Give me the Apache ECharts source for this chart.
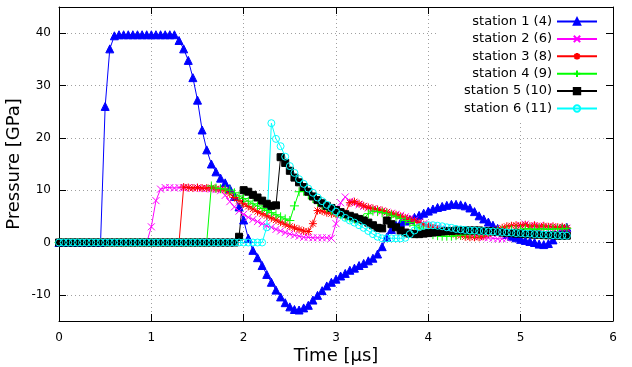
<!DOCTYPE html>
<html>
<head>
<meta charset="utf-8">
<script src="https://cdn.jsdelivr.net/npm/echarts@6/dist/echarts.min.js"></script>
<style>
  html, body { margin: 0; padding: 0; background: #fff; }
  #chart { width: 632px; height: 367px; }
</style>
</head>
<body>
<div id="chart"></div>
<script>
  // sample times [us]
  var time = [
    0.00, 0.05, 0.10, 0.15, 0.20, 0.25, 0.30, 0.35, 0.40, 0.45,
    0.50, 0.55, 0.60, 0.65, 0.70, 0.75, 0.80, 0.85, 0.90, 0.95,
    1.00, 1.05, 1.10, 1.15, 1.20, 1.25, 1.30, 1.35, 1.40, 1.45,
    1.50, 1.55, 1.60, 1.65, 1.70, 1.75, 1.80, 1.85, 1.90, 1.95,
    2.00, 2.05, 2.10, 2.15, 2.20, 2.25, 2.30, 2.35, 2.40, 2.45,
    2.50, 2.55, 2.60, 2.65, 2.70, 2.75, 2.80, 2.85, 2.90, 2.95,
    3.00, 3.05, 3.10, 3.15, 3.20, 3.25, 3.30, 3.35, 3.40, 3.45,
    3.50, 3.55, 3.60, 3.65, 3.70, 3.75, 3.80, 3.85, 3.90, 3.95,
    4.00, 4.05, 4.10, 4.15, 4.20, 4.25, 4.30, 4.35, 4.40, 4.45,
    4.50, 4.55, 4.60, 4.65, 4.70, 4.75, 4.80, 4.85, 4.90, 4.95,
    5.00, 5.05, 5.10, 5.15, 5.20, 5.25, 5.30, 5.35, 5.40, 5.45,
    5.50
  ]

  // pressure [GPa], one value per sample time
  var station1 = [
    0, 0, 0, 0, 0, 0, 0, 0, 0, 0,
    26, 37, 39.5, 39.7, 39.7, 39.7, 39.7, 39.7, 39.7, 39.7,
    39.7, 39.7, 39.7, 39.7, 39.7, 39.7, 38.6, 37.0, 34.8, 31.5,
    27.2, 21.5, 17.7, 15.0, 13.5, 12.3, 11.4, 10.3, 8.8, 6.8,
    4.3, 0.8, -1.5, -2.9, -4.4, -6.1, -7.6, -9.1, -10.4, -11.5,
    -12.3, -12.8, -12.9, -12.5, -12.0, -11.0, -10.1, -9.2, -8.3, -7.6,
    -7.0, -6.4, -5.9, -5.3, -4.9, -4.4, -4.0, -3.5, -3.0, -2.2,
    -0.8, 1.0, 2.5, 3.3, 3.8, 4.1, 4.4, 4.8, 5.2, 5.6,
    6.0, 6.4, 6.7, 6.9, 7.1, 7.3, 7.3, 7.2, 7.0, 6.6,
    5.9, 5.1, 4.5, 3.9, 3.3, 2.7, 2.1, 1.6, 1.2, 0.9,
    0.6, 0.4, 0.2, 0.0, -0.3, -0.4, -0.2, 0.5, 1.5, 2.7,
    2.9
  ]
  var station2 = [
    0, 0, 0, 0, 0, 0, 0, 0, 0, 0,
    0, 0, 0, 0, 0, 0, 0, 0, 0, 0,
    3.0, 8.0, 10.2, 10.5, 10.5, 10.4, 10.5, 10.4, 10.5, 10.4,
    10.4, 10.3, 10.3, 10.2, 10.1, 9.9, 9.0, 7.8, 6.8, 6.0,
    5.4, 4.8, 4.4, 4.0, 3.6, 3.2, 2.9, 2.5, 2.2, 1.9,
    1.6, 1.4, 1.2, 1.0, 1.0, 0.9, 0.9, 0.9, 0.9, 0.8,
    3.6, 7.6, 8.7, 7.9, 7.5, 7.2, 6.9, 6.6, 6.4, 6.2,
    6.0, 5.8, 5.6, 5.4, 5.2, 4.9, 4.6, 4.3, 3.9, 3.6,
    3.3, 3.0, 2.8, 2.6, 2.4, 2.2, 2.0, 1.8, 1.7, 1.5,
    1.4, 1.2, 1.0, 0.9, 0.8, 0.7, 0.7, 0.8, 1.8, 2.9,
    3.3, 3.5, 3.2, 3.0, 3.2, 2.9, 3.0, 2.8, 2.9, 2.7,
    2.7
  ]
  var station3 = [
    0, 0, 0, 0, 0, 0, 0, 0, 0, 0,
    0, 0, 0, 0, 0, 0, 0, 0, 0, 0,
    0, 0, 0, 0, 0, 0, 0, 10.6, 10.5, 10.4,
    10.5, 10.4, 10.4, 10.5, 10.3, 10.2, 10.0, 9.3, 8.6, 8.0,
    7.4, 6.9, 6.4, 5.9, 5.5, 5.1, 4.7, 4.3, 3.9, 3.5,
    3.1, 2.8, 2.5, 2.2, 2.1, 3.6, 6.1, 6.0, 5.7, 5.5,
    5.4, 5.4, 5.5, 7.6, 7.8, 7.4, 7.0, 6.7, 6.5, 6.3,
    6.1, 5.8, 5.5, 5.3, 5.0, 4.7, 4.4, 4.1, 3.8, 3.4,
    3.1, 2.8, 2.5, 2.2, 1.9, 1.7, 1.5, 1.3, 1.1, 1.0,
    1.0, 1.0, 1.2, 1.6, 2.0, 2.5, 2.8, 3.1, 3.2, 3.3,
    3.2, 3.4, 3.1, 3.3, 3.0, 3.2, 3.0, 3.1, 2.9, 3.0,
    2.8
  ]
  var station4 = [
    0, 0, 0, 0, 0, 0, 0, 0, 0, 0,
    0, 0, 0, 0, 0, 0, 0, 0, 0, 0,
    0, 0, 0, 0, 0, 0, 0, 0, 0, 0,
    0, 0, 0, 10.8, 10.4, 10.3, 10.2, 10.0, 9.5, 8.9,
    8.4, 7.9, 7.4, 7.0, 6.5, 6.1, 5.7, 5.3, 4.9, 4.5,
    4.2, 7.0, 9.7, 9.8, 9.1, 8.4, 7.7, 7.1, 6.6, 6.1,
    5.7, 5.3, 5.0, 4.7, 4.5, 4.4, 4.6, 5.5, 6.0, 5.9,
    5.7, 5.5, 5.2, 4.9, 4.6, 4.2, 3.8, 3.3, 2.8, 2.3,
    1.9, 1.5, 1.3, 1.2, 1.2, 1.2, 1.3, 1.4, 1.5, 1.6,
    1.7, 1.8, 1.9, 2.0, 2.1, 2.2, 2.3, 2.4, 2.4, 2.5,
    2.5, 2.6, 2.6, 2.5, 2.6, 2.6, 2.5, 2.6, 2.6, 2.6,
    2.7
  ]
  var station5 = [
    0, 0, 0, 0, 0, 0, 0, 0, 0, 0,
    0, 0, 0, 0, 0, 0, 0, 0, 0, 0,
    0, 0, 0, 0, 0, 0, 0, 0, 0, 0,
    0, 0, 0, 0, 0, 0, 0, 0, 0, 1.1,
    10.0, 9.7, 9.1, 8.6, 8.0, 7.4, 7.0, 7.1, 16.3, 15.2,
    13.7, 12.4, 11.5, 10.6, 9.7, 8.8, 8.1, 7.5, 7.0, 6.6,
    6.2, 5.8, 5.4, 5.1, 4.8, 4.5, 4.2, 3.8, 3.3, 2.8,
    2.7, 4.2, 3.5, 2.9, 2.3, 1.9, 1.7, 1.6, 1.6, 1.7,
    1.8, 1.9, 2.0, 2.1, 2.2, 2.2, 2.3, 2.3, 2.3, 2.3,
    2.3, 2.3, 2.2, 2.2, 2.1, 2.0, 1.9, 1.8, 1.8, 1.7,
    1.7, 1.6, 1.6, 1.5, 1.5, 1.4, 1.4, 1.4, 1.3, 1.3,
    1.3
  ]
  var station6 = [
    0, 0, 0, 0, 0, 0, 0, 0, 0, 0,
    0, 0, 0, 0, 0, 0, 0, 0, 0, 0,
    0, 0, 0, 0, 0, 0, 0, 0, 0, 0,
    0, 0, 0, 0, 0, 0, 0, 0, 0, 0,
    0, 0, 0, 0, 0, 2.9, 22.8, 19.8, 18.4, 16.4,
    14.6, 13.3, 12.1, 11.2, 10.3, 9.5, 8.6, 7.9, 7.2, 6.6,
    5.9, 5.3, 4.7, 4.2, 3.8, 3.3, 2.8, 2.2, 1.6, 1.1,
    0.8, 0.8, 0.8, 0.8, 0.8, 0.9, 1.6, 2.3, 2.9, 3.2,
    3.3, 3.3, 3.2, 3.1, 2.9, 2.8, 2.6, 2.5, 2.4, 2.3,
    2.3, 2.2, 2.2, 2.1, 2.1, 2.0, 2.0, 1.9, 1.9, 1.8,
    1.8, 1.7, 1.7, 1.6, 1.6, 1.5, 1.5, 1.4, 1.4, 1.3,
    1.3
  ]

  var stationNames = ['station 1 (4)', 'station 2 (6)', 'station 3 (8)',
    'station 4 (9)', 'station 5 (10)', 'station 6 (11)']
  var xTicks = [0, 1, 2, 3, 4, 5, 6]
  var yTicks = [-10, 0, 10, 20, 30, 40]

  function pairs(values) {
    return values.map(function(v, i) { return [time[i], v] })
  }

  var font = 'DejaVu Sans'
  var gridLine = {
    show: true,
    lineStyle: {color: '#a0a0a0', width: 1, type: [1, 3]}
  }
  var frameLine = {show: true, onZero: false, lineStyle: {color: '#000', width: 1}}
  var tick = {show: true, inside: true, length: 7, lineStyle: {color: '#000'}}

  function lineSeries(name, values, color, symbol, size, fill) {
    return {
      name: name,
      type: 'line',
      data: pairs(values),
      symbol: symbol,
      symbolSize: size,
      showAllSymbol: true,
      lineStyle: {color: color, width: 1},
      itemStyle: {color: fill, borderColor: color, borderWidth: 1},
      emphasis: {disabled: true}
    }
  }

  var chart = echarts.init(document.getElementById('chart'), null, {renderer: 'canvas'})
  var option = {
    animation: false,
    color: ['#0000ff', '#ff00ff', '#ff0000', '#00ff00', '#000000', '#00ffff'],
    grid: {left: 59, right: 19, top: 7, bottom: 46, outerBoundsMode: 'none', containLabel: false},
    legend: {
      data: stationNames,
      orient: 'vertical',
      align: 'right',
      right: 20,
      top: 8,
      padding: [7, 14, 6, 27],
      backgroundColor: '#fff',
      itemWidth: 40,
      itemHeight: 8,
      itemGap: 4.4,
      textStyle: {color: '#000', fontSize: 13, fontFamily: font}
    },
    xAxis: [{
      type: 'value',
      min: 0,
      max: 6,
      interval: 1,
      name: 'Time [μs]',
      nameLocation: 'middle',
      nameGap: 26,
      nameMoveOverlap: false,
      nameTextStyle: {color: '#000', fontSize: 18, fontFamily: font},
      axisLine: frameLine,
      axisTick: tick,
      axisLabel: {color: '#000', fontSize: 12, fontFamily: font, margin: 11,
        formatter: function(v) { return xTicks.indexOf(v) >= 0 ? String(v) : '' }},
      splitLine: gridLine
    }, {
      type: 'value',
      position: 'top',
      min: 0,
      max: 6,
      interval: 1,
      axisLine: frameLine,
      axisTick: tick,
      axisLabel: {show: false},
      splitLine: {show: false}
    }],
    yAxis: [{
      type: 'value',
      min: -15,
      max: 45,
      splitNumber: 6,
      name: 'Pressure [GPa]',
      nameLocation: 'middle',
      nameGap: 36,
      nameMoveOverlap: false,
      nameTextStyle: {color: '#000', fontSize: 18, fontFamily: font},
      axisLine: frameLine,
      axisTick: tick,
      axisLabel: {color: '#000', fontSize: 12, fontFamily: font, margin: 8,
        showMinLabel: false, showMaxLabel: false,
        formatter: function(v) { return yTicks.indexOf(v) >= 0 ? String(v) : '' }},
      splitLine: gridLine
    }, {
      type: 'value',
      position: 'right',
      min: -15,
      max: 45,
      splitNumber: 6,
      z: 10,
      axisLine: frameLine,
      axisTick: tick,
      axisLabel: {show: false},
      splitLine: {show: false}
    }],
    series: [
      lineSeries(stationNames[0], station1, '#0000ff', 'triangle', 8, '#0000ff'),
      lineSeries(stationNames[1], station2, '#ff00ff', 'path://M0,0L7,7M7,0L0,7', 7, '#ff00ff'),
      lineSeries(stationNames[2], station3, '#ff0000', 'path://M0,4L8,4M4,0L4,8M1,1L7,7M7,1L1,7', 8, '#ff0000'),
      lineSeries(stationNames[3], station4, '#00ff00', 'path://M0,4.5L9,4.5M4.5,0L4.5,9', 9, '#00ff00'),
      lineSeries(stationNames[4], station5, '#000000', 'rect', 7, '#000000'),
      lineSeries(stationNames[5], station6, '#00ffff', 'circle', 7, 'rgba(255,255,255,0)')
    ]
  }
  chart.setOption(option)
</script>
</body>
</html>
